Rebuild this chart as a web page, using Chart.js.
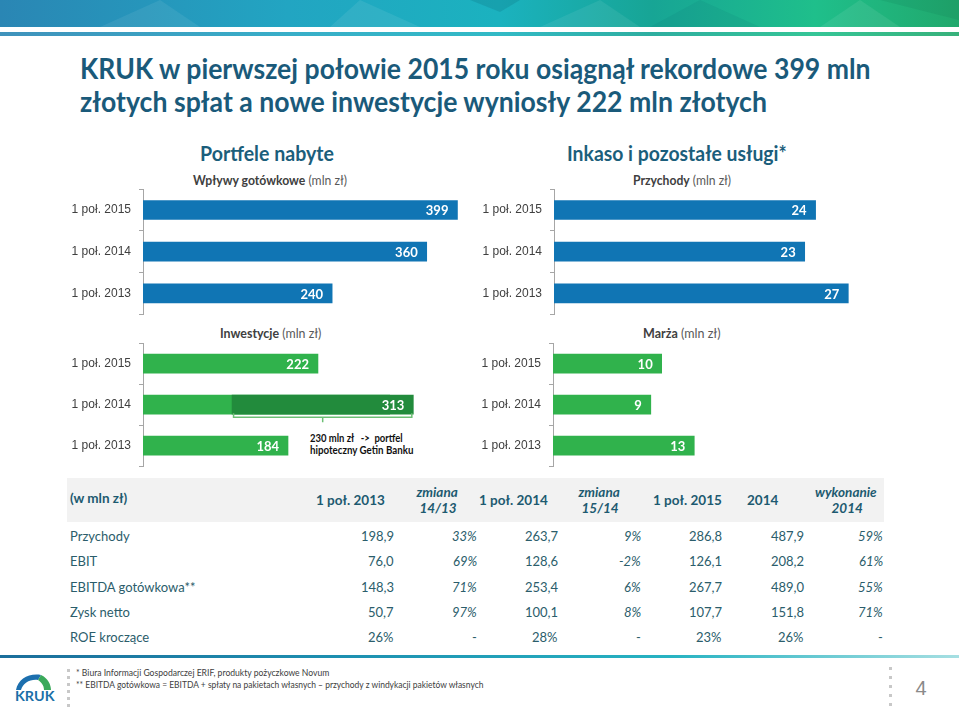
<!DOCTYPE html>
<html><head><meta charset="utf-8">
<script src="https://cdn.jsdelivr.net/npm/chart.js@4.4.1/dist/chart.umd.min.js"></script>
<style>
html,body{margin:0;padding:0;background:#fff;}
#slide{position:relative;width:959px;height:713px;overflow:hidden;font-family:Lato,'Liberation Sans',sans-serif;background:#fff;}
.t{position:absolute;white-space:nowrap;line-height:1;transform-origin:0 50%;}
.cw{position:absolute;}
.blk{position:absolute;}
</style></head>
<body><div id="slide">
<svg class="blk" style="left:0;top:0" width="959" height="40">
  <defs>
    <linearGradient id="gb" x1="0" x2="1" y1="0" y2="0">
      <stop offset="0" stop-color="#2a86b4"/>
      <stop offset="0.3" stop-color="#22a5c2"/>
      <stop offset="0.52" stop-color="#1bb2bf"/>
      <stop offset="0.68" stop-color="#17a595"/>
      <stop offset="0.85" stop-color="#1fbf8b"/>
      <stop offset="1" stop-color="#21a86c"/>
    </linearGradient>
  </defs>
  <rect x="0" y="0" width="959" height="27" fill="url(#gb)"/>
  <polygon points="100,27 160,0 200,27" fill="#ffffff" opacity="0.07"/>
  <polygon points="330,27 360,0 420,27" fill="#ffffff" opacity="0.08"/>
  <polygon points="470,0 520,0 500,12" fill="#0b5f70" opacity="0.2"/>
  <polygon points="540,27 600,0 640,27" fill="#ffffff" opacity="0.07"/>
  <polygon points="650,27 700,0 760,27" fill="#0b5f70" opacity="0.1"/>
  <polygon points="820,27 860,0 900,27" fill="#ffffff" opacity="0.08"/>
  <polygon points="880,0 959,0 959,20" fill="#0b6f50" opacity="0.15"/>
  <rect x="0" y="32" width="959" height="4" fill="url(#gb)" opacity="0.9"/>
</svg>
<div class="blk" style="left:0;top:655px;width:959px;height:3px;background:linear-gradient(90deg,#1b6e9b 0%,#1d8fb0 35%,#27b3c2 70%,#a6dfe2 100%);"></div>
<div class="blk" style="left:67px;top:478px;width:817px;height:44px;background:#f2f2f2;"></div>
<svg class="blk" style="left:10px;top:670px" width="50" height="40">
  <path d="M6 20 C 8 9, 19 3, 31 5 L 28 10 C 20 9, 13 13, 11 20 Z" fill="#1c6fae"/>
  <path d="M31 5 C 38 8, 41 15, 41 20 L 34 20 C 34 15, 31 12, 28 10 Z" fill="#3aa95a"/>
</svg>
</div>
<script>
// ---------- DATA ----------
const periods = ['1 poł. 2015', '1 poł. 2014', '1 poł. 2013'];
const cashInflows = [399, 360, 240];          // Wpływy gotówkowe (mln zł)
const servicesRevenue = [24, 23, 27];         // Przychody (mln zł)
const investments = [222, 313, 184];          // Inwestycje (mln zł)
const getinSpan = [null, [113, 343], null];   // portfel hipoteczny Getin Banku (dark overlay, as drawn)
const margin = [10, 9, 13];                   // Marża (mln zł)

const tableHeader = ['(w mln zł)', '1 poł. 2013', 'zmiana|14/13', '1 poł. 2014', 'zmiana|15/14', '1 poł. 2015', '2014', 'wykonanie|2014'];
const rowLabels = ['Przychody', 'EBIT', 'EBITDA gotówkowa**', 'Zysk netto', 'ROE kroczące'];
const h1_2013 = ['198,9', '76,0', '148,3', '50,7', '26%'];
const chg_14_13 = ['33%', '69%', '71%', '97%', '-'];
const h1_2014 = ['263,7', '128,6', '253,4', '100,1', '28%'];
const chg_15_14 = ['9%', '-2%', '6%', '8%', '-'];
const h1_2015 = ['286,8', '126,1', '267,7', '107,7', '23%'];
const fy_2014 = ['487,9', '208,2', '489,0', '151,8', '26%'];
const exec_2014 = ['59%', '61%', '55%', '71%', '-'];

// ---------- helpers ----------
const slide = document.getElementById('slide');
function txt(html, x, y, o = {}) {
  const s = document.createElement('div');
  s.className = 't';
  s.innerHTML = html;
  s.style.fontSize = (o.size || 13) + 'px';
  s.style.fontWeight = o.weight || 'normal';
  s.style.fontStyle = o.style || 'normal';
  s.style.color = o.color || '#404040';
  if (o.family) s.style.fontFamily = o.family;
  s.style.top = y + 'px';
  s.style.left = '0px';
  slide.appendChild(s);
  const nat = s.offsetWidth || 1;
  const k = o.w ? o.w / nat : 1;
  const ew = nat * k;
  const a = o.align || 'left';
  const left = a === 'left' ? x : a === 'right' ? x - ew : x - ew / 2;
  s.style.left = left + 'px';
  s.style.transform = 'translateY(-50%) scaleX(' + k + ')';
  return s;
}
function dot(x, y) {
  const d = document.createElement('div');
  d.className = 'blk';
  d.style.cssText = 'left:' + x + 'px;top:' + y + 'px;width:3px;height:3px;background:#c8c8c8;';
  slide.appendChild(d);
}

// ---------- texts ----------
const TITLE = '#1a5a7a';
txt('KRUK w pierwszej połowie 2015 roku osiągnął rekordowe 399 mln', 80, 68, {size: 28, weight: 'bold', color: TITLE, w: 791});
txt('złotych spłat a nowe inwestycje wyniosły 222 mln złotych', 80, 101, {size: 28, weight: 'bold', color: TITLE, w: 687});

txt('Portfele nabyte', 200, 153, {size: 20, weight: 'bold', color: '#1b5e7b', w: 134});
txt('Inkaso i pozostałe usługi*', 567, 153, {size: 20, weight: 'bold', color: '#1b5e7b', w: 220});
txt('<b>Wpływy gotówkowe</b> <span style="color:#595959">(mln zł)</span>', 193, 180, {size: 13, w: 154});
txt('<b>Przychody</b> <span style="color:#595959">(mln zł)</span>', 633, 180, {size: 13, w: 98});
txt('<b>Inwestycje</b> <span style="color:#595959">(mln zł)</span>', 220, 333, {size: 13, w: 101});
txt('<b>Marża</b> <span style="color:#595959">(mln zł)</span>', 643, 333, {size: 13, w: 78});

txt('230 mln zł &nbsp;&nbsp;-> &nbsp;portfel', 310, 438, {size: 10.5, weight: 'bold', color: '#111', w: 93});
txt('hipoteczny Getin Banku', 310, 450, {size: 10.5, weight: 'bold', color: '#111', w: 103});

// table header
const HC = '#1d5a70';
txt(tableHeader[0], 70, 499, {size: 13.5, weight: 'bold', color: HC});
txt(tableHeader[1], 385, 501, {size: 13.5, weight: 'bold', color: HC, align: 'right'});
[[2, 437], [4, 599], [7, 846]].forEach(([i, cx]) => {
  const p = tableHeader[i].split('|');
  txt(p[0], cx, 493, {size: 13.5, weight: 'bold', style: 'italic', color: HC, align: 'center'});
  txt(p[1], cx + 1, 509, {size: 13.5, weight: 'bold', style: 'italic', color: HC, align: 'center'});
});
txt(tableHeader[3], 548, 501, {size: 13.5, weight: 'bold', color: HC, align: 'right'});
txt(tableHeader[5], 722, 501, {size: 13.5, weight: 'bold', color: HC, align: 'right'});
txt(tableHeader[6], 778, 501, {size: 13.5, weight: 'bold', color: HC, align: 'right'});

// table body
const BC = '#2b5d6b';
const cols = [[h1_2013, 394, false], [chg_14_13, 477, true], [h1_2014, 558, false], [chg_15_14, 641, true],
              [h1_2015, 722, false], [fy_2014, 804, false], [exec_2014, 883, true]];
rowLabels.forEach((lab, r) => {
  const y = 536 + r * 25.3;
  txt(lab, 70, y, {size: 13, color: BC});
  cols.forEach(([arr, xr, it]) => {
    txt(arr[r], xr, y, {size: 13, color: BC, align: 'right', style: it && arr[r] !== '-' ? 'italic' : 'normal'});
  });
});

// footer
txt('* Biura Informacji Gospodarczej ERIF, produkty pożyczkowe Novum', 76, 672, {size: 9, color: '#404040', w: 253});
txt('** EBITDA gotówkowa = EBITDA + spłaty na pakietach własnych – przychody z windykacji pakietów własnych', 76, 684, {size: 9, color: '#404040', w: 407});
txt('KRUK', 15, 696, {size: 14, weight: 'bold', color: '#1a6fa8', w: 40});
txt('4', 921, 688, {size: 20, color: '#8a8a8a', align: 'center', family: "'Liberation Sans', sans-serif"});
[669, 676, 683, 690, 697, 704].forEach(y => dot(67, y));
[667, 676, 685, 694, 703].forEach(y => dot(889, y));

// ---------- charts ----------
const BLUE = '#1075b4', GREEN = '#30b24c', DARK = '#228b3c';

function makeValuePlugin(labelFn) {
  return {
    id: 'barValues',
    afterDatasetsDraw(chart) {
      const ctx = chart.ctx;
      ctx.save();
      ctx.font = 'bold 13px Lato, sans-serif';
      ctx.fillStyle = '#ffffff';
      ctx.textAlign = 'right';
      ctx.textBaseline = 'middle';
      chart.data.datasets.forEach((ds, di) => {
        const meta = chart.getDatasetMeta(di);
        meta.data.forEach((el, i) => {
          const t = labelFn(di, i);
          if (t == null) return;
          ctx.fillText(t, el.x - 9, el.y + 1);
        });
      });
      ctx.restore();
    }
  };
}

function makeBracketPlugin(dsIndex, idx) {
  return {
    id: 'bracket',
    afterDatasetsDraw(chart) {
      const el = chart.getDatasetMeta(dsIndex).data[idx];
      if (!el) return;
      const x1 = Math.min(el.base, el.x) + 1.5, x2 = Math.max(el.base, el.x) - 1.5;
      const yb = el.y + el.height / 2 + 3;
      const mid = (x1 + x2) / 2;
      const ctx = chart.ctx;
      ctx.save();
      ctx.strokeStyle = '#6cbf74';
      ctx.lineWidth = 1.5;
      ctx.beginPath();
      ctx.moveTo(x1, yb - 4); ctx.lineTo(x1, yb); ctx.lineTo(x2, yb); ctx.lineTo(x2, yb - 4);
      ctx.moveTo(mid, yb); ctx.lineTo(mid, yb + 5);
      ctx.stroke();
      ctx.restore();
    }
  };
}

function barChart(cfg) {
  const wrap = document.createElement('div');
  wrap.className = 'cw';
  const yw = cfg.axisX - cfg.left;
  const W = Math.round(yw + cfg.max * cfg.ppu);
  const Hc = cfg.bottom - cfg.top;
  wrap.style.left = cfg.left + 'px';
  wrap.style.top = cfg.top + 'px';
  wrap.style.width = W + 'px';
  wrap.style.height = Hc + 'px';
  const cv = document.createElement('canvas');
  wrap.appendChild(cv);
  slide.appendChild(wrap);
  const plugins = [makeValuePlugin(cfg.labelFn)];
  if (cfg.bracket) plugins.push(makeBracketPlugin(cfg.bracket[0], cfg.bracket[1]));
  const chart = new Chart(cv, {
    type: 'bar',
    data: {labels: periods, datasets: cfg.datasets},
    options: {
      indexAxis: 'y',
      responsive: true,
      maintainAspectRatio: false,
      animation: false,
      layout: {padding: 0},
      plugins: {
        legend: {display: false},
        tooltip: {enabled: false}
      },
      scales: {
        x: {display: false, min: 0, max: cfg.max, stacked: false},
        y: {
          stacked: true,
          offset: true,
          grid: {display: true, offset: true, drawOnChartArea: false, drawTicks: true, tickLength: 4, color: '#a6a6a6', lineWidth: 1},
          border: {display: true, color: '#a6a6a6', width: 1},
          ticks: {color: '#404040', font: {family: "'Liberation Sans', Arial, sans-serif", size: 12}, padding: 8},
          afterFit(a) { a.width = yw; }
        }
      }
    },
    plugins: plugins
  });
  const ca = chart.chartArea;
  const dt = ca.top, db = chart.height - ca.bottom;
  if (dt > 0 || db > 0) {
    wrap.style.top = (cfg.top - dt) + 'px';
    wrap.style.height = (Hc + dt + db) + 'px';
    chart.resize();
  }
  return chart;
}

const barStyle = {barThickness: 19, borderWidth: 0};

barChart({
  left: 60, axisX: 143, top: 189, bottom: 314, max: 420, ppu: 0.787,
  datasets: [Object.assign({label: 'Wpływy gotówkowe', data: cashInflows, backgroundColor: BLUE}, barStyle)],
  labelFn: (di, i) => String(cashInflows[i])
});
barChart({
  left: 470, axisX: 554, top: 189, bottom: 314, max: 30, ppu: 10.9,
  datasets: [Object.assign({label: 'Przychody', data: servicesRevenue, backgroundColor: BLUE}, barStyle)],
  labelFn: (di, i) => String(servicesRevenue[i])
});
barChart({
  left: 60, axisX: 143, top: 343, bottom: 466, max: 420, ppu: 0.787,
  datasets: [
    Object.assign({label: 'Getin', data: getinSpan, backgroundColor: DARK, order: 0}, barStyle),
    Object.assign({label: 'Inwestycje', data: investments, backgroundColor: GREEN, order: 1}, barStyle)
  ],
  labelFn: (di, i) => di === 0 ? (getinSpan[i] ? String(investments[i]) : null)
                                : (getinSpan[i] ? null : String(investments[i])),
  bracket: [0, 1]
});
barChart({
  left: 470, axisX: 553, top: 343, bottom: 466, max: 30, ppu: 10.85,
  datasets: [Object.assign({label: 'Marża', data: margin, backgroundColor: GREEN}, barStyle)],
  labelFn: (di, i) => String(margin[i])
});
</script>
</body></html>
